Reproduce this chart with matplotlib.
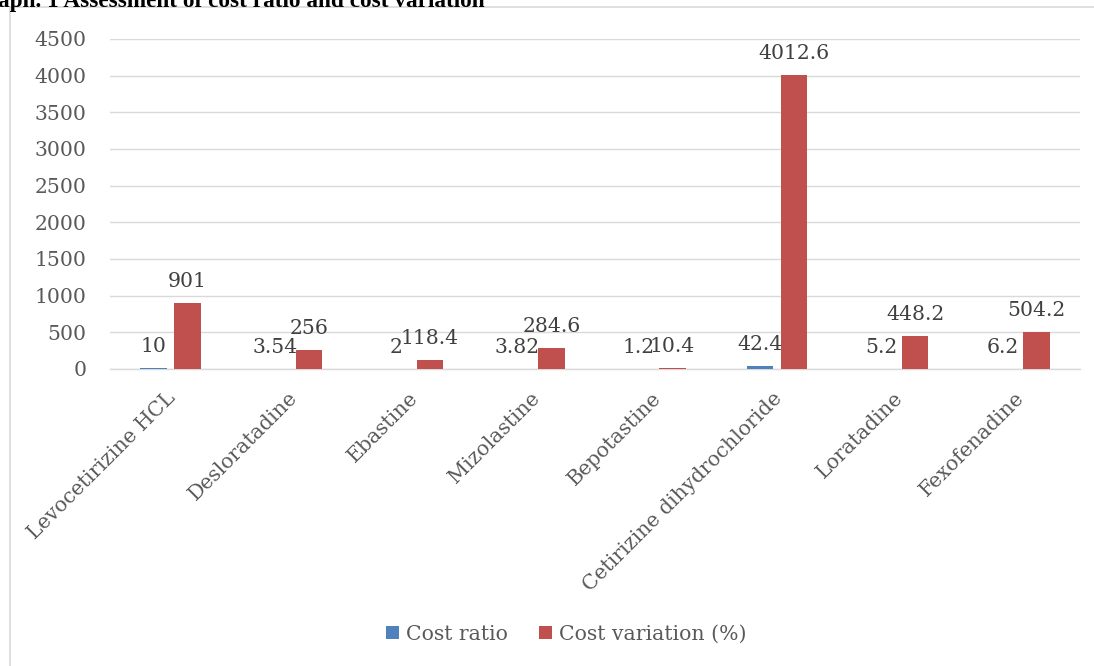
import matplotlib
matplotlib.use("Agg")
import matplotlib.pyplot as plt
from matplotlib.lines import Line2D
import numpy as np

categories = ["Levocetirizine HCL", "Desloratadine", "Ebastine", "Mizolastine",
              "Bepotastine", "Cetirizine dihydrochloride", "Loratadine", "Fexofenadine"]
cost_ratio = [10, 3.54, 2, 3.82, 1.2, 42.4, 5.2, 6.2]
cost_variation = [901, 256, 118.4, 284.6, 10.4, 4012.6, 448.2, 504.2]
ratio_labels = ["10", "3.54", "2", "3.82", "1.2", "42.4", "5.2", "6.2"]
variation_labels = ["901", "256", "118.4", "284.6", "10.4", "4012.6", "448.2", "504.2"]
yticks = [0, 500, 1000, 1500, 2000, 2500, 3000, 3500, 4000, 4500]

BLUE = "#4F81BD"
RED = "#C0504D"
GRID = "#D9D9D9"
TICK = "#595959"
LABEL = "#404040"
FS = 14.7

plt.rcParams['font.family'] = ['DejaVu Serif']

W, H = 1094, 666
fig = plt.figure(figsize=(W / 100, H / 100), dpi=100)
ax = fig.add_axes([110 / W, 1 - 369 / H, (1080 - 110) / W, (369 - 39) / H])

x = np.arange(len(categories))
bw = 0.219
off = 0.14
b1 = ax.bar(x - off, cost_ratio, bw, color=BLUE, label="Cost ratio", zorder=3)
b2 = ax.bar(x + off, cost_variation, bw, color=RED, label="Cost variation (%)", zorder=3)

for xi, v, t in zip(x, cost_ratio, ratio_labels):
    ax.annotate(t, (xi - off, v), xytext=(0, 11.5), textcoords="offset points",
                ha="center", va="baseline", fontsize=FS, color=LABEL, zorder=4)
for xi, v, t in zip(x, cost_variation, variation_labels):
    ax.annotate(t, (xi + off, v), xytext=(0, 11.5), textcoords="offset points",
                ha="center", va="baseline", fontsize=FS, color=LABEL, zorder=4)

ax.set_xlim(-0.5, len(categories) - 0.5)
ax.set_ylim(0, 4500)
ax.set_yticks(yticks)
ax.set_yticklabels([str(v) for v in yticks])
ax.grid(axis="y", color=GRID, linewidth=1.0, zorder=0)
ax.set_axisbelow(True)
for s in ["top", "right", "left"]:
    ax.spines[s].set_visible(False)
ax.spines["bottom"].set_color(GRID)
ax.spines["bottom"].set_linewidth(1.0)
ax.tick_params(axis="y", length=0, pad=17, labelsize=FS, labelcolor=TICK)
ax.set_xticks(x)
ax.set_xticklabels([])
ax.tick_params(axis="x", length=0)

# rotated category labels, baseline end anchored just below each category
for xi, name in zip(x, categories):
    ax.annotate(name, (xi, 0), xytext=(4.3, -21.6), textcoords="offset points",
                rotation=45, rotation_mode="anchor", ha="right", va="baseline",
                fontsize=FS, color=TICK, annotation_clip=False)

leg = fig.legend(handles=[b1, b2], labels=["Cost ratio", "Cost variation (%)"],
                 loc="center", bbox_to_anchor=(566 / W, 1 - 634 / H), ncol=2,
                 frameon=False, fontsize=FS, handlelength=0.64, handleheight=0.64,
                 handletextpad=0.35, columnspacing=1.5, labelcolor=TICK)

# chart area border (partially visible)
fig.add_artist(Line2D([10 / W, 10 / W], [0, 1 - 7 / H], transform=fig.transFigure,
                      color=GRID, linewidth=1.2))
fig.add_artist(Line2D([10 / W, 1], [1 - 7 / H, 1 - 7 / H], transform=fig.transFigure,
                      color=GRID, linewidth=1.2))

fig.text(-2 / W, 1 - 7 / H, "aph. 1 Assessment of cost ratio and cost variation",
         fontsize=16.75, fontweight="bold", family=["Liberation Serif"],
         ha="left", va="baseline", color="black")

fig.savefig("out.png", dpi=100)
